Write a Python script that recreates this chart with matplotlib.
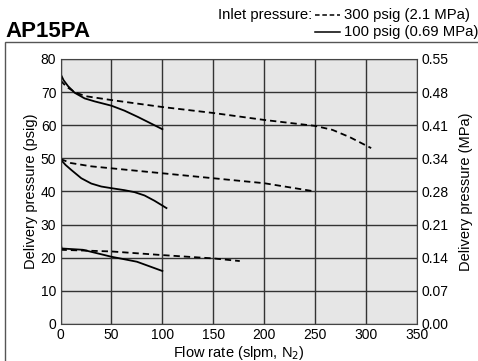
import matplotlib.pyplot as plt
from matplotlib.patches import Rectangle

plt.rcParams["font.family"] = ["Liberation Sans", "DejaVu Sans"]

# 300 psig inlet (dashed)
hi_top_x = [0, 6, 14, 24, 50, 100, 150, 200, 250, 267, 284, 305]
hi_top_y = [73.5, 71.6, 70.0, 68.8, 67.6, 65.5, 63.7, 61.6, 59.8, 58.6, 56.4, 53.1]
hi_mid_x = [0, 10, 30, 50, 100, 150, 200, 250]
hi_mid_y = [49.8, 48.6, 47.6, 47.0, 45.5, 44.0, 42.5, 40.0]
hi_low_x = [0, 50, 100, 150, 176]
hi_low_y = [22.4, 21.9, 20.8, 19.8, 19.0]

# 100 psig inlet (solid)
lo_top_x = [0, 3, 7.4, 13.9, 23.7, 33.5, 50, 62.8, 76, 89, 100]
lo_top_y = [75.5, 73.6, 71.8, 69.8, 68.1, 67.2, 65.9, 64.4, 62.5, 60.5, 58.8]
lo_mid_x = [0, 5, 10.6, 20.4, 30.2, 40, 50, 62.8, 72.7, 82.5, 92.3, 104]
lo_mid_y = [49.7, 48.0, 46.5, 44.0, 42.4, 41.5, 41.0, 40.4, 39.8, 38.8, 37.2, 35.0]
lo_low_x = [0, 1, 22, 50, 75, 100]
lo_low_y = [24.9, 22.8, 22.4, 20.3, 18.8, 16.0]

x_ticks = [0, 50, 100, 150, 200, 250, 300, 350]
psig_ticks = [0, 10, 20, 30, 40, 50, 60, 70, 80]
mpa_labels = ["0.00", "0.07", "0.14", "0.21", "0.28", "0.34", "0.41", "0.48", "0.55"]

fig = plt.figure(figsize=(4.78, 3.61), dpi=100)
ax = fig.add_axes([0.1266, 0.1025, 0.7458, 0.7341])
ax.set_facecolor("#e6e6e6")

for x, y in [(hi_top_x, hi_top_y), (hi_mid_x, hi_mid_y), (hi_low_x, hi_low_y)]:
    ax.plot(x, y, color="black", lw=1.3, dashes=(3.5, 2.2))
for x, y in [(lo_top_x, lo_top_y), (lo_mid_x, lo_mid_y), (lo_low_x, lo_low_y)]:
    ax.plot(x, y, color="black", lw=1.3)

ax.set_xlim(0, 350)
ax.set_ylim(0, 80)
ax.set_xticks(x_ticks)
ax.set_yticks(psig_ticks)
ax.grid(True, color="#333333", lw=1.0)
ax.set_axisbelow(True)
ax.tick_params(length=0, labelsize=10, pad=3)
for s in ax.spines.values():
    s.set_color("#444444")
ax.set_xlabel("Flow rate (slpm, N$_2$)", fontsize=10.5, labelpad=1)
ax.set_ylabel("Delivery pressure (psig)", fontsize=10.5, labelpad=2)

ax2 = ax.twinx()
ax2.set_ylim(0, 80)
ax2.set_yticks(psig_ticks)
ax2.set_yticklabels(mpa_labels)
ax2.tick_params(length=0, labelsize=10, pad=3)
for s in ax2.spines.values():
    s.set_visible(False)
ax2.set_ylabel("Delivery pressure (MPa)", fontsize=10.5, labelpad=8)

# outer frame
fig.patches.append(Rectangle((5 / 478, -0.1), 1.2, (361 - 42) / 361 + 0.1,
                             transform=fig.transFigure, fill=False,
                             edgecolor="#555555", lw=1.0))

fig.text(5 / 478, 1 - 37 / 361, "AP15PA", fontsize=16, fontweight="bold", va="baseline")
fig.text(312 / 478, 1 - 19 / 361, "Inlet pressure:", fontsize=10.7, va="baseline", ha="right")
fig.text(344 / 478, 1 - 19 / 361, "300 psig (2.1 MPa)", fontsize=10.7, va="baseline")
fig.text(344 / 478, 1 - 36 / 361, "100 psig (0.69 MPa)", fontsize=10.7, va="baseline")
fig.add_artist(plt.Line2D([315 / 478, 340 / 478], [1 - 15 / 361] * 2, color="black",
                          lw=1.1, dashes=(3, 1.8), transform=fig.transFigure))
fig.add_artist(plt.Line2D([315 / 478, 340 / 478], [1 - 32 / 361] * 2, color="black",
                          lw=1.1, transform=fig.transFigure))

fig.savefig("out.png", dpi=100)
